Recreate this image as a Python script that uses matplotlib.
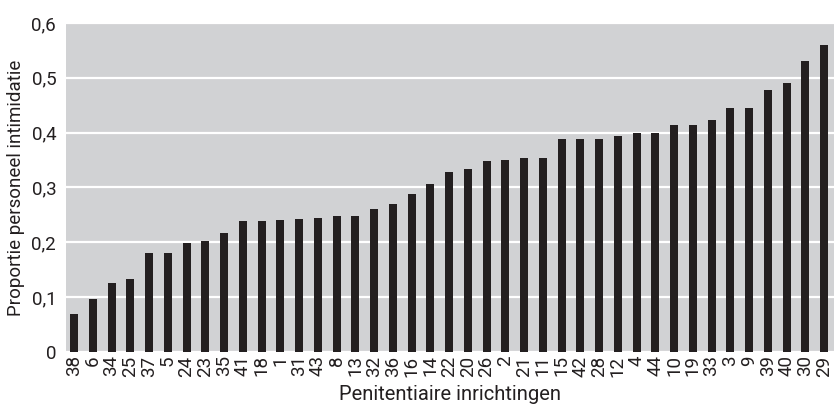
#!/usr/bin/env python3
"""
Proportion of staff reporting intimidation per penitentiary institution.
Sorted bar chart, grey panel with white grid lines.
"""

import matplotlib
matplotlib.use("Agg")
import matplotlib.pyplot as plt
from matplotlib.ticker import FuncFormatter

# Institution numbers (x-axis), in the order shown
institutions = ["38", "6", "34", "25", "37", "5", "24", "23", "35", "41",
                "18", "1", "31", "43", "8", "13", "32", "36", "16", "14",
                "22", "20", "26", "2", "21", "11", "15", "42", "28", "12",
                "4", "44", "10", "19", "33", "3", "9", "39", "40", "30", "29"]

# Proportion of staff reporting intimidation
proportions = [0.070, 0.097, 0.126, 0.133, 0.181, 0.181, 0.199, 0.203, 0.217, 0.239,
               0.239, 0.241, 0.243, 0.245, 0.248, 0.248, 0.261, 0.270, 0.288, 0.307,
               0.328, 0.334, 0.349, 0.350, 0.354, 0.354, 0.389, 0.389, 0.389, 0.394,
               0.400, 0.400, 0.414, 0.414, 0.423, 0.445, 0.445, 0.477, 0.491, 0.531, 0.560]

y_ticks = [0, 0.1, 0.2, 0.3, 0.4, 0.5, 0.6]


def main():
    plt.rcParams['font.family'] = ['Roboto', 'DejaVu Sans']

    fig = plt.figure(figsize=(8.34, 4.11), dpi=100)
    ax = fig.add_axes([0.0791, 0.1436, 0.9209, 0.8004])

    ax.set_facecolor('#d1d2d4')
    positions = list(range(len(institutions)))
    ax.bar(positions, proportions, width=0.43, color='#231f20', zorder=3)

    ax.set_xlim(-0.43, len(institutions) - 1 + 0.53)
    ax.set_ylim(0, 0.6)
    ax.set_yticks(y_ticks)
    ax.yaxis.set_major_formatter(
        FuncFormatter(lambda v, _: "0" if v == 0 else f"{v:.1f}".replace(".", ",")))
    ax.set_xticks(positions)
    ax.set_xticklabels(institutions, rotation=90, fontsize=13.5)
    ax.tick_params(axis='y', labelsize=13.5, length=0, pad=7, colors='#231f20')
    ax.tick_params(axis='x', length=0, pad=2.5, colors='#231f20')

    ax.grid(axis='y', color='white', linewidth=1.6, zorder=1)
    for spine in ax.spines.values():
        spine.set_visible(False)

    ax.set_xlabel('Penitentiaire inrichtingen', fontsize=14.5, color='#231f20', labelpad=6)
    ax.set_ylabel('Proportie personeel intimidatie', fontsize=13.5, color='#231f20', labelpad=5)

    plt.savefig('out.png', dpi=100)


if __name__ == "__main__":
    main()
